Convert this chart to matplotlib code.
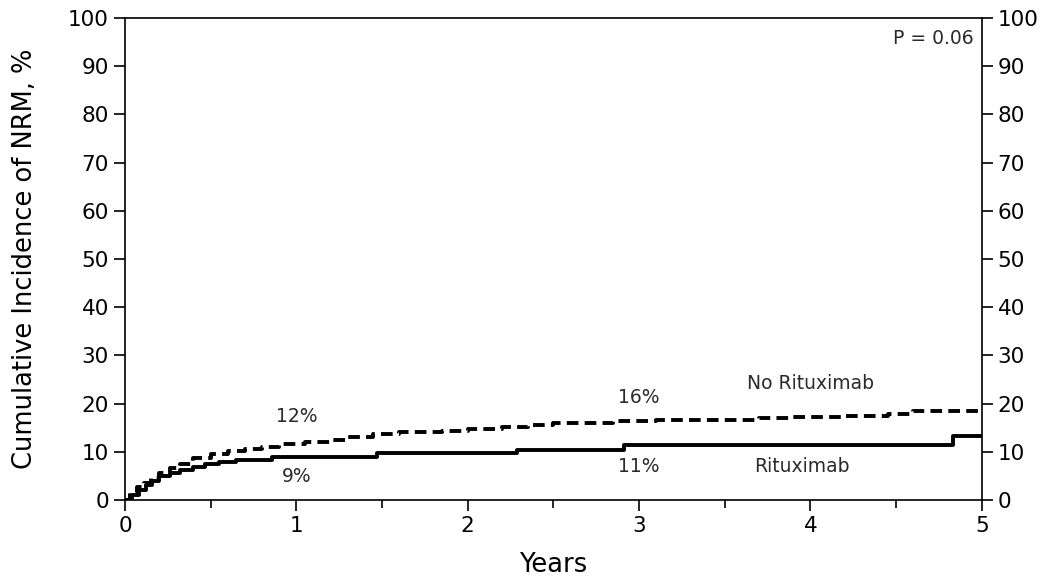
import numpy as np
import matplotlib.pyplot as plt

# Rituximab (solid)
ritux_t = [0, 0.04, 0.08, 0.12, 0.16, 0.2, 0.26, 0.32, 0.4, 0.47, 0.55, 0.65, 0.86, 1.47, 2.29, 2.91, 4.83, 5.0]
ritux_y = [0, 1.0, 2.0, 3.0, 4.0, 5.0, 5.6, 6.2, 6.9, 7.5, 7.9, 8.3, 8.9, 9.7, 10.4, 11.3, 13.3, 13.3]

# No Rituximab (dashed)
noritux_t = [0, 0.03, 0.07, 0.11, 0.15, 0.2, 0.26, 0.32, 0.4, 0.5, 0.6, 0.7, 0.8, 0.9, 1.05, 1.2, 1.3, 1.45, 1.6, 1.85, 2.0, 2.2, 2.35, 2.5, 2.85, 3.1, 3.45, 3.7, 3.9, 4.2, 4.45, 4.6, 5.0]
noritux_y = [0, 1.5, 2.6, 3.6, 4.6, 5.6, 6.6, 7.5, 8.6, 9.6, 10.2, 10.6, 11.0, 11.7, 12.1, 12.5, 13.0, 13.7, 14.2, 14.4, 14.8, 15.2, 15.6, 16.0, 16.3, 16.6, 16.6, 16.9, 17.2, 17.5, 17.9, 18.4, 18.4]

labels = [("12%", 1.0, 17.4), ("9%", 1.0, 4.8), ("16%", 3.0, 21.2), ("11%", 3.0, 7.0),
          ("No Rituximab", 4.0, 24.2), ("Rituximab", 3.95, 7.0)]

plt.rcParams['font.family'] = 'DejaVu Sans'
fig = plt.figure(figsize=(10.5, 5.82), dpi=100)
ax = fig.add_axes([0.119, 0.141, 0.816, 0.828])

ax.step(ritux_t, ritux_y, where='post', color='black', lw=2.8)
ax.step(noritux_t, noritux_y, where='post', color='black', lw=2.8, linestyle=(0, (3, 1.6)))

for txt, x, y in labels:
    ax.text(x, y, txt, ha='center', va='center', fontsize=13.5, color='#2a2a2a')
ax.text(4.95, 95.7, "P = 0.06", ha='right', va='center', fontsize=13.5, color='#2a2a2a')

ax.set_xlim(0, 5)
ax.set_ylim(0, 100)
ax.set_xticks(range(6))
ax.set_xticks(np.arange(0.5, 5, 1.0), minor=True)
ax.set_yticks(range(0, 101, 10))
ax.tick_params(axis='both', which='major', direction='out', length=8, width=1.2, labelsize=15.5)
ax.tick_params(axis='x', which='minor', direction='out', length=6, width=1.2)
ax.tick_params(axis='y', right=True, labelright=True)
for s in ax.spines.values():
    s.set_linewidth(1.2)

ax.set_xlabel("Years", fontsize=18.5, va='center')
ax.xaxis.set_label_coords(0.5, -0.135)
ax.set_ylabel("Cumulative Incidence of NRM, %", fontsize=18.5, va='center')
ax.yaxis.set_label_coords(-0.117, 0.5)

fig.savefig("out.png", dpi=100)
